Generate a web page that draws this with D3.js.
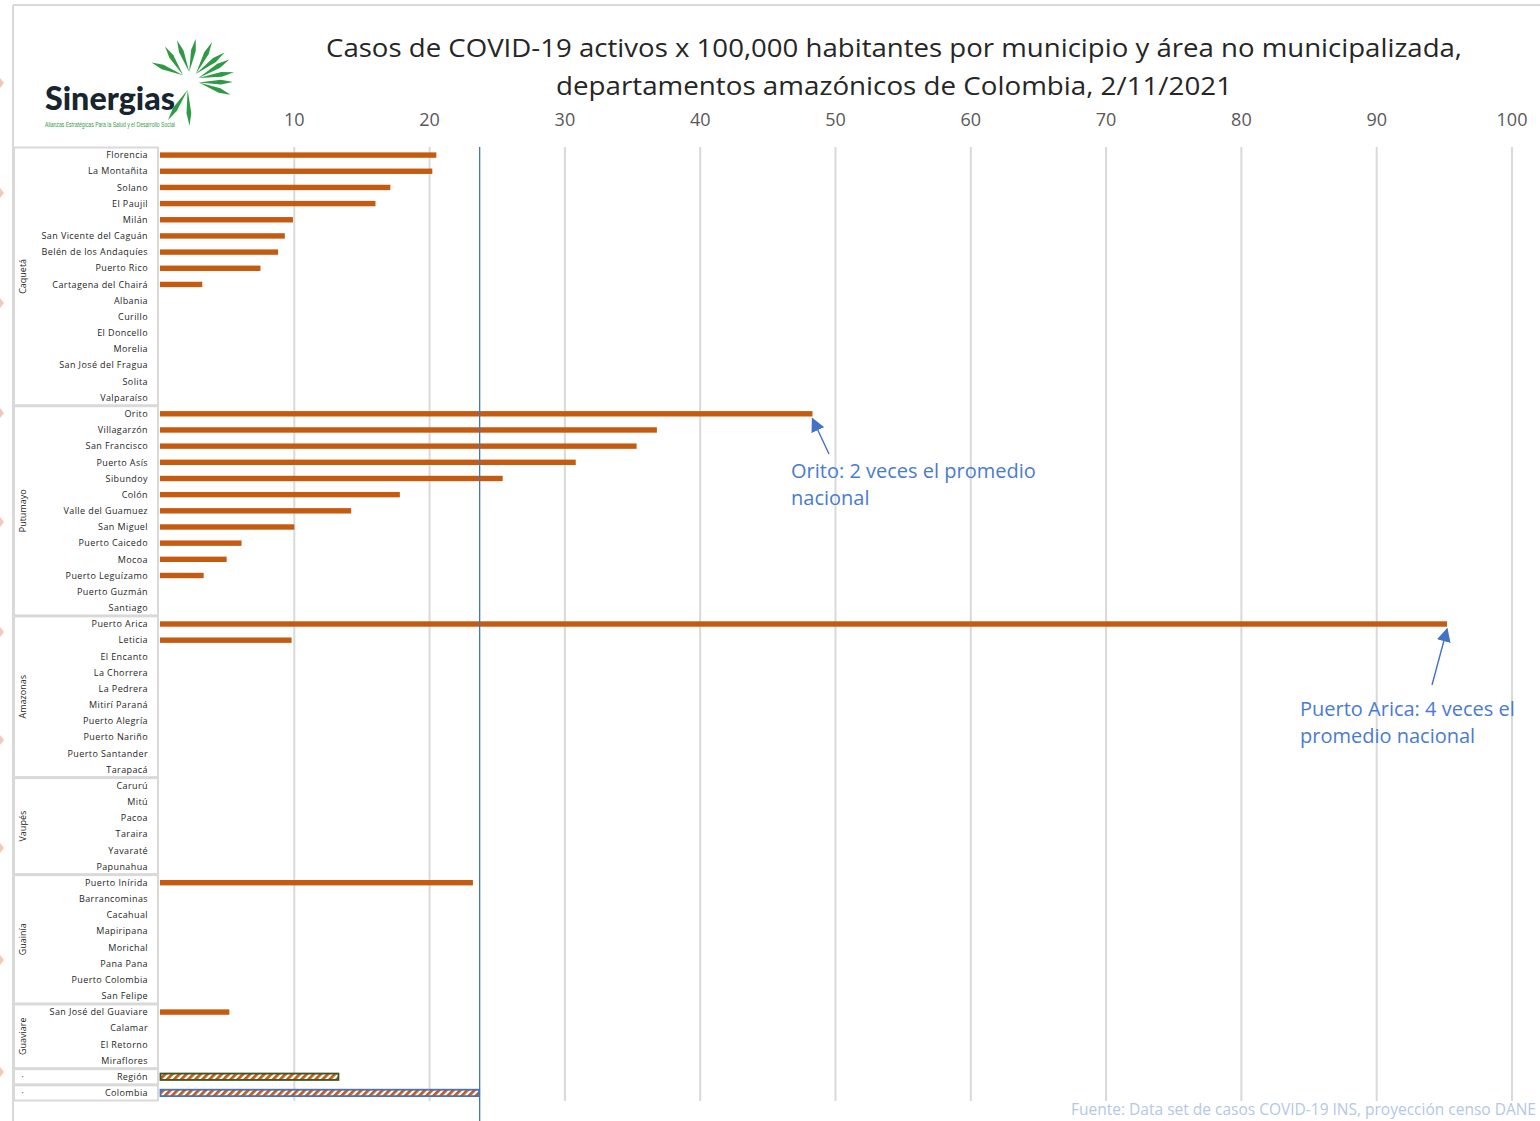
<!DOCTYPE html>
<html><head><meta charset="utf-8">
<script src="https://cdn.jsdelivr.net/npm/d3@7"></script>
<style>html,body{margin:0;padding:0;background:#fff;}svg{display:block;}</style>
</head><body>
<script>
// ---------- DATA ----------
const departamentos = ["Caquetá","Putumayo","Amazonas","Vaupés","Guainía","Guaviare","·","·"];
const municipiosPorDepto = [16,13,10,6,8,4,1,1];
const municipios = [
 "Florencia","La Montañita","Solano","El Paujil","Milán","San Vicente del Caguán","Belén de los Andaquíes","Puerto Rico","Cartagena del Chairá","Albania","Curillo","El Doncello","Morelia","San José del Fragua","Solita","Valparaíso",
 "Orito","Villagarzón","San Francisco","Puerto Asís","Sibundoy","Colón","Valle del Guamuez","San Miguel","Puerto Caicedo","Mocoa","Puerto Leguízamo","Puerto Guzmán","Santiago",
 "Puerto Arica","Leticia","El Encanto","La Chorrera","La Pedrera","Mitirí Paraná","Puerto Alegría","Puerto Nariño","Puerto Santander","Tarapacá",
 "Carurú","Mitú","Pacoa","Taraira","Yavaraté","Papunahua",
 "Puerto Inírida","Barrancominas","Cacahual","Mapiripana","Morichal","Pana Pana","Puerto Colombia","San Felipe",
 "San José del Guaviare","Calamar","El Retorno","Miraflores",
 "Región","Colombia"
];
const casosActivos = [
 20.5,20.2,17.1,16.0,9.9,9.3,8.8,7.5,3.2,0,0,0,0,0,0,0,
 48.3,36.8,35.3,30.8,25.4,17.8,14.2,10.0,6.1,5.0,3.3,0,0,
 95.2,9.8,0,0,0,0,0,0,0,0,
 0,0,0,0,0,0,
 23.2,0,0,0,0,0,0,0,
 5.2,0,0,0,
 13.3,23.7
];
const ticksX = [10,20,30,40,50,60,70,80,90,100];
const promedioNacional = 23.7;
const tituloLineas = ["Casos de COVID-19 activos x 100,000 habitantes por municipio y área no municipalizada,",
                      "departamentos amazónicos de Colombia, 2/11/2021"];
const anotaciones = [
 {fila:"Orito", lineas:["Orito: 2 veces el promedio","nacional"]},
 {fila:"Puerto Arica", lineas:["Puerto Arica: 4 veces el","promedio nacional"]}
];
const fuente = "Fuente: Data set de casos COVID-19 INS, proyección censo DANE";

// ---------- LAYOUT ----------
const W=1540,H=1121;
const svg=d3.select("body").append("svg").attr("width",W).attr("height",H);
const defs=svg.append("defs");
const pat=defs.append("pattern").attr("id","stripes").attr("patternUnits","userSpaceOnUse")
  .attr("width",5).attr("height",5).attr("patternTransform","rotate(45)");
pat.append("rect").attr("width",5).attr("height",5).attr("fill","#fff");
pat.append("rect").attr("width",2.8).attr("height",5).attr("fill","#c55a11");

const x=d3.scaleLinear().domain([0,100]).range([159,1512]);
const plotTop=147, plotBot=1101;
const y=d3.scaleBand().domain(d3.range(municipios.length)).range([plotTop,plotBot]);

// frame
svg.append("line").attr("x1",13).attr("x2",W).attr("y1",5).attr("y2",5).attr("stroke","#d9d9d9").attr("stroke-width",2);
svg.append("line").attr("x1",13).attr("x2",13).attr("y1",5).attr("y2",H).attr("stroke","#d9d9d9").attr("stroke-width",2);

// small artifacts on left edge
[83,193,303,413,522,632,740,848,960,1072].forEach(v=>{
  svg.append("path").attr("d",`M0,${v-5} L4,${v} L0,${v+5}Z`).attr("fill","#f4c7b8");
});

// Title
svg.append("g").selectAll("text").data(tituloLineas).join("text")
 .attr("x",894).attr("y",(d,i)=>57+i*38).attr("text-anchor","middle")
 .attr("font-family","Open Sans, sans-serif").attr("font-size",25).attr("fill","#262626")
 .attr("textLength",(d,i)=>i===0?1136:676).attr("lengthAdjust","spacingAndGlyphs")
 .text(d=>d);

// Logo
const logo=svg.append("g");
logo.append("text").attr("x",45).attr("y",110).attr("font-family","Lato, sans-serif").attr("font-weight",900)
 .attr("font-size",33).attr("fill","#17252f").attr("textLength",130).attr("lengthAdjust","spacingAndGlyphs").text("Sinergias");
logo.append("text").attr("x",45).attr("y",127).attr("font-family","Liberation Sans Narrow, Liberation Sans, sans-serif")
 .attr("font-size",6.5).attr("fill","#3a9a48").attr("textLength",130).attr("lengthAdjust","spacingAndGlyphs")
 .text("Alianzas Estratégicas Para la Salud y el Desarrollo Social");
const cx=190,cy=81;
const hojas=[[-140,34,18],[-95,34,16],[-50,36,13],[-20,36,11],[10,34,11],[105,36,18]];
hojas.forEach(([ang,len,spread])=>{
  const a=ang*Math.PI/180;
  const vx=cx+9*Math.cos(a), vy=cy+9*Math.sin(a);
  [1,-1].forEach(s=>{
    const b=a+s*spread*Math.PI/180;
    const x1=vx+len*Math.cos(b), y1=vy+len*Math.sin(b);
    const px=-Math.sin(b), py=Math.cos(b);
    const xm=vx+len*0.65*Math.cos(b), ym=vy+len*0.65*Math.sin(b);
    logo.append("path").attr("d",`M${vx},${vy} L${xm+px*2.4},${ym+py*2.4} L${x1},${y1} L${xm-px*2.4},${ym-py*2.4}Z`).attr("fill","#2e9a43");
  });
});

// Gridlines + tick labels
svg.append("g").selectAll("line").data(ticksX).join("line")
 .attr("x1",d=>x(d)).attr("x2",d=>x(d)).attr("y1",plotTop).attr("y2",plotBot)
 .attr("stroke","#d9d9d9").attr("stroke-width",2);
svg.append("g").selectAll("text").data(ticksX).join("text")
 .attr("x",d=>x(d)).attr("y",126).attr("text-anchor","middle")
 .attr("font-family","Open Sans, sans-serif").attr("font-size",18).attr("fill","#595959").text(d=>d);

// group boxes on left
let start=0;
const gb=svg.append("g");
departamentos.forEach((dep,i)=>{
  const n=municipiosPorDepto[i];
  const y0=y(start), y1=y(start+n-1)+y.bandwidth();
  gb.append("rect").attr("x",14).attr("y",y0+0.5).attr("width",144).attr("height",y1-y0-1)
    .attr("fill","none").attr("stroke","#d9d9d9").attr("stroke-width",2);
  const yc=(y0+y1)/2;
  gb.append("text").attr("transform",`translate(26,${yc}) rotate(-90)`).attr("text-anchor","middle")
    .attr("font-family","Open Sans, sans-serif").attr("font-size",9).attr("fill","#262626").text(dep);
  start+=n;
});

// category labels
svg.append("g").selectAll("text").data(municipios).join("text")
 .attr("x",148).attr("y",(d,i)=>y(i)+y.bandwidth()/2+3.2).attr("text-anchor","end")
 .attr("font-family","Open Sans, sans-serif").attr("font-size",9).attr("letter-spacing",0.4).attr("fill","#262626").text(d=>d);

// bars
const n=municipios.length;
svg.append("g").selectAll("rect").data(casosActivos.map((v,i)=>({v,i})).filter(d=>d.v>0 && d.i<n-2)).join("rect")
 .attr("x",x(0)+1).attr("y",d=>y(d.i)+y.bandwidth()/2-2.7).attr("width",d=>x(d.v)-x(0)-1).attr("height",5.4)
 .attr("fill","#c55a11");
// Region & Colombia
const esp=[{i:n-2,stroke:"#375623"},{i:n-1,stroke:"#4472c4"}];
svg.append("g").selectAll("rect").data(esp).join("rect")
 .attr("x",x(0)+1.5).attr("y",d=>y(d.i)+y.bandwidth()/2-3.2).attr("width",d=>x(casosActivos[d.i])-x(0)-2).attr("height",6.4)
 .attr("fill","url(#stripes)").attr("stroke",d=>d.stroke).attr("stroke-width",1.8);

// national average line
svg.append("line").attr("x1",x(promedioNacional)).attr("x2",x(promedioNacional)).attr("y1",plotTop).attr("y2",H)
 .attr("stroke","#4472c4").attr("stroke-width",1.3);

// annotations
const azul="#4a7bd0";
defs.append("marker").attr("id","ah").attr("viewBox","0 0 10 10").attr("refX",9).attr("refY",5)
 .attr("markerWidth",14).attr("markerHeight",14).attr("markerUnits","userSpaceOnUse").attr("orient","auto")
 .append("path").attr("d","M0,0 L10,5 L0,10Z").attr("fill","#4472c4");
const anotPos={ "Orito":{tx:791,ty:478,ax:829,ay:454}, "Puerto Arica":{tx:1300,ty:716,ax:1432,ay:685}};
anotaciones.forEach(a=>{
  const i=municipios.indexOf(a.fila);
  const p=anotPos[a.fila];
  const tipX=x(casosActivos[i]), tipY=y(i)+y.bandwidth()/2+5;
  svg.append("line").attr("x1",p.ax).attr("y1",p.ay).attr("x2",tipX).attr("y2",tipY)
   .attr("stroke","#4472c4").attr("stroke-width",1.4).attr("marker-end","url(#ah)");
  a.lineas.forEach((l,k)=>{
    svg.append("text").attr("x",p.tx).attr("y",p.ty+k*27).attr("font-family","Open Sans, sans-serif")
     .attr("font-size",20).attr("fill",azul).text(l);
  });
});

// source
svg.append("text").attr("x",1536).attr("y",1115).attr("text-anchor","end").attr("font-family","Open Sans, sans-serif")
 .attr("font-size",15.5).attr("fill","#b4c7e7").text(fuente);
</script>
</body></html>
